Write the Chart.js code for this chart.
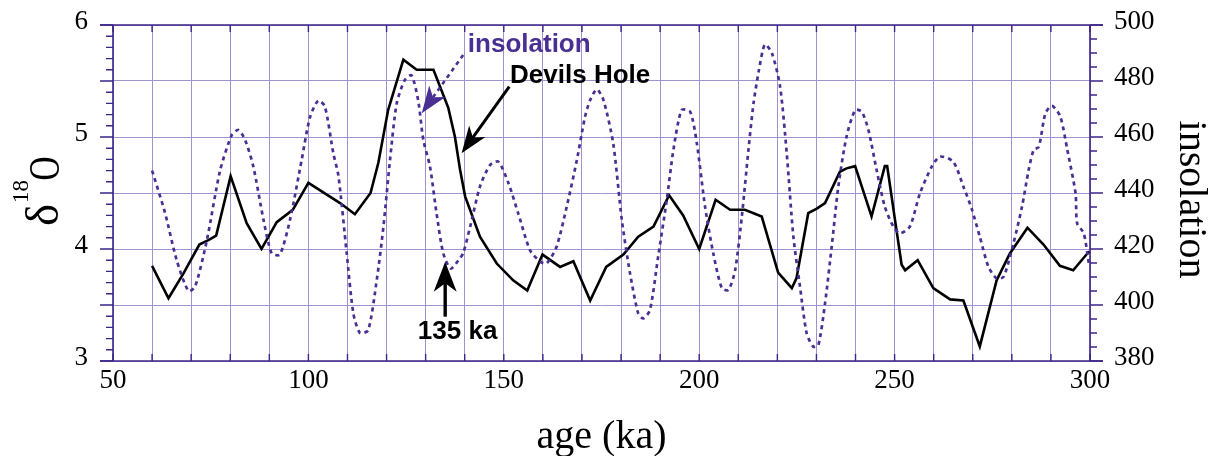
<!DOCTYPE html>
<html><head><meta charset="utf-8">
<script src="https://cdn.jsdelivr.net/npm/chart.js@4.4.1/dist/chart.umd.min.js"></script>
<style>html,body{margin:0;padding:0;background:#fff;}#wrap{width:1219px;height:456px;}</style>
</head><body><div id="wrap"><canvas id="c" width="1219" height="456"></canvas></div>
<script>
// ---- data ----
const devilsAge = [60,64.2,68,72.1,74.4,76.4,80.1,84.2,88.0,91.9,96.0,100.0,108.1,111.9,115.9,117.9,120.4,124.3,127.7,132.0,135.8,137.5,138.8,140.1,143.9,148.2,152.4,156.0,159.9,164.4,167.8,172.1,176.2,180.6,184.4,188.3,192.3,195.9,200.0,204.2,207.9,211.7,216.0,220.2,223.7,224.9,227.9,230.1,232.2,236.0,237.7,239.9,244.1,247.5,248.1,250.1,251.8,252.7,255.9,259.9,264.2,267.6,271.8,276.1,279.5,284.0,288.1,292.3,295.7,299.8];
const devilsD18O = [3.85,3.56,3.78,4.04,4.08,4.12,4.65,4.23,4.00,4.24,4.35,4.59,4.41,4.31,4.50,4.77,5.24,5.69,5.60,5.60,5.26,5.00,4.71,4.47,4.11,3.87,3.72,3.63,3.95,3.84,3.89,3.54,3.84,3.95,4.11,4.20,4.48,4.30,4.00,4.44,4.35,4.35,4.29,3.79,3.65,3.74,4.32,4.36,4.41,4.69,4.72,4.74,4.29,4.74,4.74,4.26,3.86,3.81,3.90,3.65,3.55,3.54,3.13,3.72,3.96,4.19,4.04,3.85,3.81,3.98];
const insolAge = [60,63.3,66.3,69.3,71,74,77.4,80.4,82.1,83.8,85.9,88.5,90.6,92.7,95.3,98.3,100.4,102.5,104.2,106.4,107.7,109.8,111.5,113.2,115.3,117.5,119.2,120.9,122.6,124.7,126.4,128.1,129.4,131.1,132.8,134.5,136.4,138.4,139.6,141.4,143.9,146.5,148.6,151.2,153.7,156.7,159.3,161.0,163.5,166.1,168.7,170.8,172.1,173.8,175.5,178.0,180.2,182.3,184.4,185.7,187.4,189.5,191.7,193.4,195.5,197.7,199.4,201.5,203.6,205.8,207.5,209.2,210.9,212.6,213.9,215.3,216.8,218.6,220.7,222.4,224.1,225.8,227.5,229.2,230.5,232.2,233.9,235.6,237.7,239.9,241.6,243.3,245.4,247.5,249.7,251.4,253.9,256.5,259.5,261.6,265.0,267.6,269.7,271.8,274.0,276.1,277.9,280.4,282.6,284.3,285.6,286.9,288.6,290.3,292.4,294.2,296.3,296.7,298.4,299.7];
const insolValue = [448,433,416,405,406.5,423,448,460.7,462.5,459,449.5,430.5,418.5,418,430.5,452,467,473,471,454,446,418.5,397,390,391,409,428,452,472,480.4,482,473,459,449.5,432.7,418.5,413,416,418.5,428,442.3,450,451.2,443.5,432.7,419.6,415.5,414.9,420.8,435.1,451.8,467.3,473.2,477,473.2,457.7,430.4,411.3,397,395.2,398.2,417.3,437.5,455.4,469.6,469.0,457.7,435.1,418.5,406,405.4,412.5,431.5,455.4,472,484,493,490,478,454.2,424.4,406.5,389.9,385.1,385.7,400.6,420.8,442.3,460.1,469.6,469.0,462.5,448.2,435.1,428,425.6,428,439.9,449.4,453.0,451.2,442.3,434.5,424.4,413.7,409.5,410.1,422.0,435.1,448.2,455.4,456.5,468.5,471.1,467.3,455.4,439.9,429.2,425.6,414.9];
const xTickLabels = [50,100,150,200,250,300];
const leftTickLabels = [3,4,5,6];
const rightTickLabels = [380,400,420,440,460,480,500];

const PURPLE = '#4a2f92';
const FRAME = '#3d2489';
const GRID = '#a091cf';
const SERIF = "'Liberation Serif','Times New Roman',serif";
const SANS = "'Liberation Sans',Arial,sans-serif";

function arrow(ctx, x0, y0, x1, y1, color, dash, width, len, halfW) {
  const a = Math.atan2(y1 - y0, x1 - x0), ux = Math.cos(a), uy = Math.sin(a);
  const nx = -uy, ny = ux;
  ctx.save();
  ctx.strokeStyle = color; ctx.fillStyle = color; ctx.lineWidth = width;
  ctx.setLineDash(dash);
  ctx.beginPath(); ctx.moveTo(x0, y0); ctx.lineTo(x1 - ux * len * 0.7, y1 - uy * len * 0.7); ctx.stroke();
  ctx.setLineDash([]);
  ctx.beginPath();
  ctx.moveTo(x1, y1);
  ctx.lineTo(x1 - ux * len + nx * halfW, y1 - uy * len + ny * halfW);
  ctx.lineTo(x1 - ux * len * 0.72, y1 - uy * len * 0.72);
  ctx.lineTo(x1 - ux * len - nx * halfW, y1 - uy * len - ny * halfW);
  ctx.closePath(); ctx.fill();
  ctx.restore();
}

const framePlugin = {
  id: 'frame',
  beforeDatasetsDraw(chart) {
    const ctx = chart.ctx, {left, right, top, bottom} = chart.chartArea;
    const {x, y, y1} = chart.scales;
    ctx.save();
    ctx.strokeStyle = FRAME; ctx.lineWidth = 1.6;
    ctx.beginPath();
    ctx.moveTo(left - 13, top); ctx.lineTo(right + 13, top);
    ctx.moveTo(left - 13, bottom); ctx.lineTo(right + 13, bottom);
    ctx.moveTo(left, top); ctx.lineTo(left, bottom);
    ctx.moveTo(right, top); ctx.lineTo(right, bottom);
    ctx.stroke();
    ctx.lineWidth = 1.4;
    ctx.beginPath();
    for (let i = 0; i <= 30; i++) {
      const py = y.getPixelForValue(y.min + i * 0.1);
      ctx.moveTo(left - (i % 5 === 0 ? 13 : 7), py); ctx.lineTo(left, py);
    }
    for (let i = 0; i <= 24; i++) {
      const py = y1.getPixelForValue(y1.min + i * 5);
      ctx.moveTo(right, py); ctx.lineTo(right + (i % 4 === 0 ? 13 : 7), py);
    }
    x.ticks.forEach(t => {
      const px = x.getPixelForValue(t.value);
      ctx.moveTo(px, top); ctx.lineTo(px, top + 7);
      ctx.moveTo(px, bottom); ctx.lineTo(px, bottom - 7);
    });
    ctx.stroke();
    ctx.restore();
  },
  afterDatasetsDraw(chart) {
    const ctx = chart.ctx, {x, y, y1} = chart.scales;
    ctx.save();
    ctx.font = 'bold 26px ' + SANS; ctx.textBaseline = 'middle'; ctx.textAlign = 'left';
    ctx.fillStyle = '#000';
    ctx.fillText('Devils Hole', x.getPixelForValue(151.6), y.getPixelForValue(5.545));
    arrow(ctx, x.getPixelForValue(151.4), y.getPixelForValue(5.45), x.getPixelForValue(139.2), y.getPixelForValue(4.855), '#000', [], 3, 27, 10);
    ctx.fillStyle = PURPLE;
    ctx.fillText('insolation', x.getPixelForValue(140.8), y1.getPixelForValue(492.9));
    arrow(ctx, x.getPixelForValue(139.6), y1.getPixelForValue(489.3), x.getPixelForValue(129.0), y1.getPixelForValue(468.5), PURPLE, [4, 4], 2.6, 27, 10);
    ctx.fillStyle = '#000';
    ctx.fillText('135 ka', x.getPixelForValue(128.0), y.getPixelForValue(3.263));
    arrow(ctx, x.getPixelForValue(135.0), y.getPixelForValue(3.396), x.getPixelForValue(135.0), y.getPixelForValue(3.887), '#000', [], 3.4, 30, 11.5);
    ctx.restore();
    // axis titles drawn rotated
    ctx.save();
    ctx.fillStyle = '#000'; ctx.textAlign = 'center'; ctx.textBaseline = 'alphabetic';
    const glyph = (txt, size, bx, cy, sx, rot) => {
      ctx.save(); ctx.translate(bx, cy); ctx.rotate(rot); ctx.scale(sx, 1);
      ctx.font = size + 'px ' + SERIF; ctx.fillText(txt, 0, 0); ctx.restore();
    };
    glyph('δ', 47, 58, 215, 1, -Math.PI / 2);
    glyph('18', 23, 28, 191.5, 1, -Math.PI / 2);
    glyph('O', 45, 59, 168.5, 0.74, -Math.PI / 2);
    glyph('insolation', 40, 1180, 199.5, 1, Math.PI / 2);
    ctx.restore();
  }
};

const noPad = s => { s.paddingTop = 0; s.paddingBottom = 0; s.paddingLeft = 0; s.paddingRight = 0; };

new Chart(document.getElementById('c'), {
  type: 'line',
  data: {
    datasets: [
      { label: 'insolation', yAxisID: 'y1',
        data: insolAge.map((a, i) => ({x: a, y: insolValue[i]})),
        borderColor: PURPLE, borderWidth: 2.7, borderDash: [4, 4], pointRadius: 0, tension: 0.25, fill: false },
      { label: 'Devils Hole', yAxisID: 'y',
        data: devilsAge.map((a, i) => ({x: a, y: devilsD18O[i]})),
        borderColor: '#000', borderWidth: 2.6, pointRadius: 0, tension: 0, fill: false }
    ]
  },
  options: {
    responsive: false, animation: false, devicePixelRatio: 1,
    layout: {padding: {top: 25, left: 0, right: 0, bottom: 0}},
    plugins: {legend: {display: false}, tooltip: {enabled: false}},
    scales: {
      x: {
        type: 'linear', min: 50, max: 300,
        afterFit: s => { s.height = 95; noPad(s); },
        border: {display: false},
        grid: {color: GRID, lineWidth: 1, drawTicks: false},
        ticks: {stepSize: 10, autoSkip: false, maxRotation: 0, padding: 4, color: '#000',
          font: {family: SERIF, size: 27},
          callback: v => xTickLabels.includes(v) ? String(v) : ''},
        title: {display: true, text: 'age (ka)', color: '#000',
          font: {family: SERIF, size: 40, lineHeight: 1}, padding: {top: 0, bottom: -1}}
      },
      y: {
        position: 'left', min: 3, max: 6,
        afterFit: s => { s.width = 113; noPad(s); },
        border: {display: false},
        grid: {color: GRID, lineWidth: 1, drawTicks: false},
        ticks: {stepSize: 0.5, autoSkip: false, padding: 25, color: '#000',
          font: {family: SERIF, size: 27, lineHeight: 0.2},
          callback: v => leftTickLabels.includes(v) ? [String(v), ''] : ''}
      },
      y1: {
        position: 'right', min: 380, max: 500,
        afterFit: s => { s.width = 129; noPad(s); },
        border: {display: false},
        grid: {drawOnChartArea: false, drawTicks: false},
        ticks: {stepSize: 20, autoSkip: false, padding: 24, color: '#000',
          font: {family: SERIF, size: 27, lineHeight: 0.2},
          callback: v => rightTickLabels.includes(v) ? [String(v), ''] : ''}
      }
    }
  },
  plugins: [framePlugin]
});
</script></body></html>
